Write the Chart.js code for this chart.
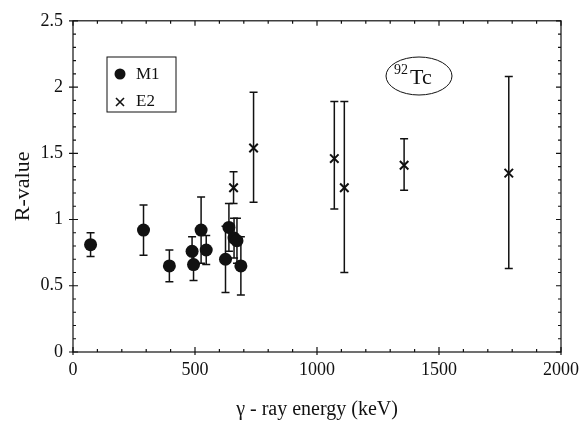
<!DOCTYPE html>
<html>
<head>
<meta charset="utf-8">
<script src="https://cdn.jsdelivr.net/npm/chart.js@4.4.1/dist/chart.umd.min.js"></script>
<style>
  html, body { margin: 0; padding: 0; background: #fff; }
  #wrap { width: 587px; height: 421px; }
</style>
</head>
<body>
<div id="wrap"><canvas id="chart"></canvas></div>
<script>
// M1 transitions
const m1Energy = [72, 289, 395, 488, 494, 525, 546, 625, 639, 660, 672, 688];
const m1R      = [0.81, 0.92, 0.65, 0.76, 0.66, 0.92, 0.77, 0.70, 0.94, 0.86, 0.84, 0.65];
const m1Err    = [0.09, 0.19, 0.12, 0.11, 0.12, 0.25, 0.11, 0.25, 0.18, 0.15, 0.17, 0.22];

// E2 transitions
const e2Energy  = [658, 740, 1071, 1112, 1357, 1786];
const e2R       = [1.24, 1.54, 1.46, 1.24, 1.41, 1.35];
const e2ErrUp   = [0.12, 0.42, 0.43, 0.65, 0.20, 0.73];
const e2ErrDown = [0.12, 0.41, 0.38, 0.64, 0.19, 0.72];

const xTicks = [0, 500, 1000, 1500, 2000];
const yTicks = [0, 0.5, 1, 1.5, 2, 2.5];

const serif = '"Liberation Serif", "Times New Roman", serif';

const toPoints = (xs, ys) => xs.map((x, i) => ({ x: x, y: ys[i] }));

const errorBars = {
  id: 'errorBars',
  beforeDatasetsDraw(chart) {
    const ctx = chart.ctx;
    const xs = chart.scales.x, ys = chart.scales.y;
    const sets = [
      [m1Energy, m1R, m1Err, m1Err],
      [e2Energy, e2R, e2ErrUp, e2ErrDown]
    ];
    ctx.save();
    ctx.strokeStyle = '#111';
    ctx.lineWidth = 1.5;
    sets.forEach(([ex, ry, up, dn]) => {
      ex.forEach((e, i) => {
        const px = xs.getPixelForValue(e);
        const top = ys.getPixelForValue(ry[i] + up[i]);
        const bot = ys.getPixelForValue(ry[i] - dn[i]);
        ctx.beginPath();
        ctx.moveTo(px, top); ctx.lineTo(px, bot);
        ctx.moveTo(px - 4, top); ctx.lineTo(px + 4, top);
        ctx.moveTo(px - 4, bot); ctx.lineTo(px + 4, bot);
        ctx.stroke();
      });
    });
    ctx.restore();
  },
  afterDraw(chart) {
    const ctx = chart.ctx;
    const a = chart.chartArea;
    const xs = chart.scales.x, ys = chart.scales.y;
    ctx.save();
    ctx.strokeStyle = '#111';
    ctx.lineWidth = 1.2;
    ctx.strokeRect(a.left, a.top, a.right - a.left, a.bottom - a.top);

    ctx.beginPath();
    for (let v = 0; v <= 2000; v += 100) {
      const px = xs.getPixelForValue(v);
      const major = v % 500 === 0;
      const len = major ? 5 : 3;
      ctx.moveTo(px, a.bottom + (major ? 3 : 0)); ctx.lineTo(px, a.bottom - len);
      ctx.moveTo(px, a.top); ctx.lineTo(px, a.top + len);
    }
    for (let k = 0; k <= 25; k++) {
      const v = k / 10;
      const py = ys.getPixelForValue(v);
      const major = k % 5 === 0;
      const len = major ? 5 : 3;
      ctx.moveTo(a.left - (major ? 4 : 0), py); ctx.lineTo(a.left + len, py);
      ctx.moveTo(a.right, py); ctx.lineTo(a.right - len, py);
    }
    ctx.stroke();

    // legend box
    const lx = 107, ly = 57, lw = 69, lh = 55;
    ctx.lineWidth = 1;
    ctx.strokeRect(lx, ly, lw, lh);
    ctx.font = '17px ' + serif;
    ctx.fillStyle = '#111';
    ctx.textBaseline = 'middle';
    const ds = chart.data.datasets;
    ctx.beginPath();
    ctx.arc(lx + 13, 74, 5.5, 0, Math.PI * 2);
    ctx.fill();
    ctx.fillText(ds[0].label, lx + 29, 75);
    ctx.lineWidth = 1.6;
    ctx.beginPath();
    ctx.moveTo(lx + 9, 98); ctx.lineTo(lx + 17, 106);
    ctx.moveTo(lx + 17, 98); ctx.lineTo(lx + 9, 106);
    ctx.stroke();
    ctx.fillText(ds[1].label, lx + 29, 102);

    // nucleus label
    ctx.lineWidth = 1;
    ctx.beginPath();
    ctx.ellipse(419, 76, 33, 19, 0, 0, Math.PI * 2);
    ctx.stroke();
    ctx.font = '14px ' + serif;
    ctx.textAlign = 'left';
    ctx.fillText('92', 394, 70);
    ctx.font = '22px ' + serif;
    ctx.fillText('Tc', 410, 78);
    ctx.restore();
  }
};

const ctx = document.getElementById('chart').getContext('2d');
new Chart(ctx, {
  type: 'scatter',
  data: {
    datasets: [
      {
        label: 'M1',
        data: toPoints(m1Energy, m1R),
        pointStyle: 'circle',
        pointRadius: 6.5,
        backgroundColor: '#111',
        borderColor: '#111',
        borderWidth: 0
      },
      {
        label: 'E2',
        data: toPoints(e2Energy, e2R),
        pointStyle: 'crossRot',
        pointRadius: 6,
        backgroundColor: '#111',
        borderColor: '#111',
        borderWidth: 2
      }
    ]
  },
  options: {
    responsive: true,
    maintainAspectRatio: false,
    animation: false,
    layout: { padding: { top: 19, right: 26, left: 0, bottom: 0 } },
    plugins: {
      legend: { display: false },
      tooltip: { enabled: false }
    },
    scales: {
      x: {
        type: 'linear',
        min: 0, max: 2000,
        afterBuildTicks: (s) => { s.ticks = xTicks.map(v => ({ value: v })); },
        afterFit: (s) => { s.height = 69; },
        grid: { display: false, drawTicks: false },
        border: { display: false },
        ticks: {
          color: '#111', font: { family: serif, size: 18 }, padding: 7,
          callback: (v) => String(v)
        },
        title: {
          display: true,
          text: 'γ - ray energy (keV)',
          color: '#111',
          font: { family: serif, size: 20, lineHeight: 1 },
          padding: { top: 20, bottom: 1 }
        }
      },
      y: {
        type: 'linear',
        min: 0, max: 2.5,
        afterBuildTicks: (s) => { s.ticks = yTicks.map(v => ({ value: v })); },
        afterFit: (s) => { s.width = 73; },
        grid: { display: false, drawTicks: false },
        border: { display: false },
        ticks: {
          color: '#111', font: { family: serif, size: 18 }, padding: 10,
          callback: (v) => String(v)
        },
        title: {
          display: true,
          text: 'R-value',
          color: '#111',
          font: { family: serif, size: 22 },
          padding: { top: 10, bottom: 0 }
        }
      }
    }
  },
  plugins: [errorBars]
});
</script>
</body>
</html>
